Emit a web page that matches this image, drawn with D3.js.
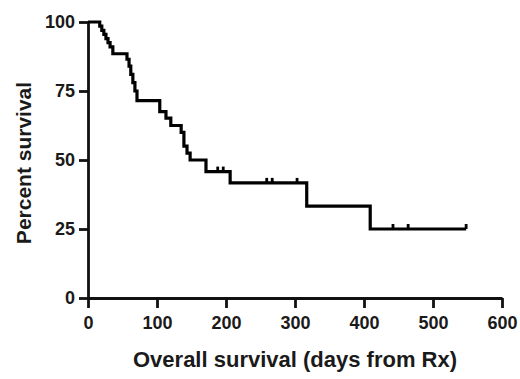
<!DOCTYPE html>
<html>
<head>
<meta charset="utf-8">
<script src="https://cdn.jsdelivr.net/npm/d3@7"></script>
<style>
  html, body { margin: 0; padding: 0; background: #fff; }
  svg { display: block; }
  text { font-family: "Liberation Sans", Arial, sans-serif; font-weight: bold; fill: #1a1a1a; }
</style>
</head>
<body>
<script>
// ---- data ----
const stepDays     = [0, 17, 20, 23, 26, 29, 32, 36, 56.5, 59.5, 62, 65, 68, 71, 104, 113, 120, 135, 139, 143.5, 148, 171, 206, 317, 409];
const stepSurvival = [100, 98.5, 97, 95.5, 94, 92.5, 91, 88.5, 86.5, 84, 81, 78, 75, 71.5, 67.5, 65.2, 62.5, 60, 55, 52.5, 50, 45.8, 41.7, 33.3, 25];
const lastDay      = 548;
const censorDays   = [188, 196, 259, 267, 303, 442, 464, 548];
const xTicks       = [0, 100, 200, 300, 400, 500, 600];
const yTicks       = [0, 25, 50, 75, 100];
const xTitle       = "Overall survival (days from Rx)";
const yTitle       = "Percent survival";

const W = 520, H = 379;
const mLeft = 88, mRight = 502, mTop = 22, mBottom = 298;

const svg = d3.select("body").append("svg").attr("width", W).attr("height", H);

const x = d3.scaleLinear().domain([0, 600]).range([mLeft, mRight]);
const y = d3.scaleLinear().domain([0, 100]).range([mBottom, mTop]);

// axes
const gx = svg.append("g").attr("transform", `translate(0,${mBottom})`)
  .call(d3.axisBottom(x).tickValues(xTicks).tickSize(10).tickSizeOuter(0).tickPadding(8));
const gy = svg.append("g").attr("transform", `translate(${mLeft},0)`)
  .call(d3.axisLeft(y).tickValues(yTicks).tickSize(9).tickSizeOuter(0).tickPadding(4));

[gx, gy].forEach(g => {
  g.select(".domain").attr("stroke", "#111").attr("stroke-width", 2.8);
  g.selectAll(".tick line").attr("stroke", "#111").attr("stroke-width", 2.8);
  g.selectAll(".tick text").style("font-size", "18px").style("font-family", '"Liberation Sans", Arial, sans-serif')
    .style("font-weight", "bold").attr("fill", "#1a1a1a");
});

// KM step curve
const pts = stepDays.map((d, i) => [d, stepSurvival[i]]);
pts.push([lastDay, stepSurvival[stepSurvival.length - 1]]);
const line = d3.line().x(d => x(d[0])).y(d => y(d[1])).curve(d3.curveStepAfter);
svg.append("path").datum(pts)
  .attr("d", line)
  .attr("fill", "none")
  .attr("stroke", "#000")
  .attr("stroke-width", 3.2)
  .attr("stroke-linejoin", "miter");

// censor marks
function survAt(t) {
  let s = stepSurvival[0];
  for (let i = 0; i < stepDays.length; i++) if (stepDays[i] <= t) s = stepSurvival[i];
  return s;
}
svg.append("g").selectAll("line").data(censorDays).join("line")
  .attr("x1", d => x(d)).attr("x2", d => x(d))
  .attr("y1", d => y(survAt(d))).attr("y2", d => y(survAt(d)) - 5)
  .attr("stroke", "#000").attr("stroke-width", 2.8);

// titles
svg.append("text")
  .attr("x", 295).attr("y", 367)
  .attr("text-anchor", "middle")
  .style("font-size", "22px")
  .text(xTitle);

svg.append("text")
  .attr("transform", `translate(31,${163}) rotate(-90)`)
  .attr("text-anchor", "middle")
  .style("font-size", "21px")
  .text(yTitle);
</script>
</body>
</html>
